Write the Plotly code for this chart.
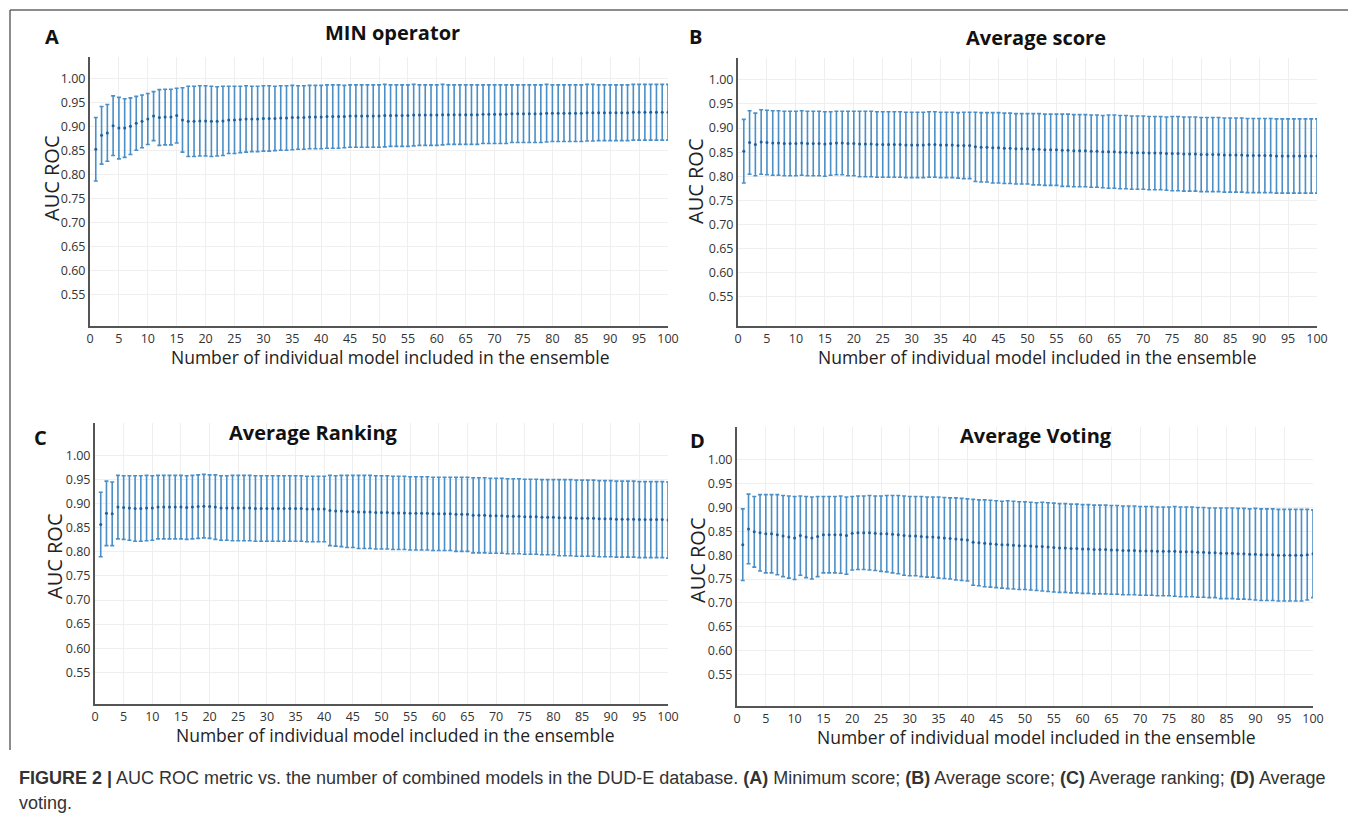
import plotly.graph_objects as go

W, H = 1348, 827

n_models = list(range(1, 101))

mean_A = [0.852, 0.881, 0.886, 0.901, 0.896, 0.896, 0.900, 0.906, 0.910, 0.915,
          0.921, 0.918, 0.919, 0.919, 0.922, 0.913, 0.910, 0.910, 0.911, 0.911,
          0.910, 0.910, 0.911, 0.913, 0.913, 0.914, 0.915, 0.915, 0.915, 0.916,
          0.916, 0.916, 0.917, 0.917, 0.918, 0.918, 0.918, 0.919, 0.919, 0.919,
          0.920, 0.920, 0.920, 0.920, 0.921, 0.921, 0.921, 0.921, 0.921, 0.921,
          0.922, 0.922, 0.922, 0.922, 0.922, 0.923, 0.923, 0.923, 0.923, 0.923,
          0.924, 0.924, 0.924, 0.924, 0.924, 0.924, 0.924, 0.925, 0.925, 0.925,
          0.925, 0.925, 0.926, 0.926, 0.926, 0.926, 0.926, 0.926, 0.927, 0.927,
          0.927, 0.927, 0.927, 0.927, 0.927, 0.928, 0.928, 0.928, 0.928, 0.928,
          0.928, 0.928, 0.928, 0.929, 0.929, 0.929, 0.929, 0.929, 0.929, 0.929]
sd_A = [0.066, 0.060, 0.059, 0.062, 0.064, 0.061, 0.059, 0.056, 0.055, 0.053,
        0.051, 0.058, 0.058, 0.058, 0.057, 0.067, 0.073, 0.073, 0.073, 0.073,
        0.073, 0.072, 0.072, 0.070, 0.070, 0.069, 0.069, 0.068, 0.068, 0.068,
        0.068, 0.067, 0.067, 0.067, 0.067, 0.066, 0.066, 0.066, 0.066, 0.066,
        0.066, 0.066, 0.066, 0.065, 0.065, 0.065, 0.065, 0.065, 0.065, 0.065,
        0.065, 0.064, 0.064, 0.064, 0.064, 0.064, 0.063, 0.063, 0.063, 0.063,
        0.063, 0.062, 0.062, 0.062, 0.062, 0.062, 0.062, 0.061, 0.061, 0.061,
        0.061, 0.061, 0.060, 0.060, 0.060, 0.060, 0.060, 0.060, 0.060, 0.059,
        0.059, 0.059, 0.059, 0.059, 0.059, 0.059, 0.059, 0.058, 0.058, 0.058,
        0.058, 0.058, 0.058, 0.058, 0.058, 0.058, 0.058, 0.058, 0.058, 0.058]

mean_B = [0.852, 0.870, 0.866, 0.871, 0.870, 0.869, 0.869, 0.868, 0.868, 0.868,
          0.869, 0.868, 0.868, 0.868, 0.867, 0.868, 0.869, 0.869, 0.868, 0.868,
          0.867, 0.867, 0.867, 0.866, 0.866, 0.866, 0.866, 0.866, 0.865, 0.865,
          0.865, 0.865, 0.866, 0.866, 0.865, 0.865, 0.865, 0.864, 0.864, 0.864,
          0.861, 0.860, 0.860, 0.859, 0.859, 0.858, 0.858, 0.857, 0.857, 0.857,
          0.856, 0.856, 0.855, 0.855, 0.855, 0.854, 0.854, 0.853, 0.853, 0.853,
          0.852, 0.852, 0.851, 0.851, 0.851, 0.850, 0.850, 0.849, 0.849, 0.849,
          0.848, 0.848, 0.848, 0.847, 0.847, 0.847, 0.846, 0.846, 0.846, 0.845,
          0.845, 0.845, 0.845, 0.844, 0.844, 0.844, 0.844, 0.843, 0.843, 0.843,
          0.843, 0.843, 0.842, 0.842, 0.842, 0.842, 0.842, 0.842, 0.842, 0.842]
sd_B = [0.066, 0.066, 0.065, 0.067, 0.067, 0.067, 0.067, 0.067, 0.067, 0.067,
        0.067, 0.067, 0.067, 0.067, 0.067, 0.066, 0.066, 0.066, 0.067, 0.067,
        0.068, 0.068, 0.068, 0.068, 0.068, 0.068, 0.068, 0.068, 0.068, 0.068,
        0.068, 0.068, 0.068, 0.068, 0.068, 0.068, 0.068, 0.068, 0.069, 0.069,
        0.072, 0.072, 0.072, 0.073, 0.073, 0.073, 0.073, 0.073, 0.073, 0.073,
        0.074, 0.074, 0.074, 0.074, 0.074, 0.075, 0.075, 0.075, 0.075, 0.075,
        0.075, 0.075, 0.075, 0.076, 0.076, 0.076, 0.076, 0.076, 0.076, 0.076,
        0.076, 0.076, 0.076, 0.076, 0.077, 0.077, 0.077, 0.077, 0.077, 0.077,
        0.077, 0.077, 0.077, 0.077, 0.077, 0.077, 0.077, 0.077, 0.077, 0.077,
        0.077, 0.077, 0.077, 0.077, 0.077, 0.077, 0.077, 0.077, 0.077, 0.077]

mean_C = [0.857, 0.880, 0.879, 0.893, 0.892, 0.891, 0.890, 0.890, 0.891, 0.891,
          0.893, 0.893, 0.893, 0.893, 0.893, 0.892, 0.893, 0.894, 0.895, 0.894,
          0.893, 0.891, 0.891, 0.891, 0.891, 0.891, 0.891, 0.890, 0.890, 0.890,
          0.890, 0.890, 0.890, 0.890, 0.890, 0.890, 0.889, 0.889, 0.889, 0.889,
          0.886, 0.885, 0.885, 0.884, 0.884, 0.883, 0.883, 0.883, 0.882, 0.882,
          0.882, 0.881, 0.881, 0.881, 0.880, 0.880, 0.880, 0.880, 0.879, 0.879,
          0.879, 0.879, 0.878, 0.878, 0.878, 0.876, 0.876, 0.876, 0.875, 0.875,
          0.875, 0.874, 0.874, 0.874, 0.873, 0.873, 0.873, 0.872, 0.872, 0.872,
          0.871, 0.871, 0.871, 0.870, 0.870, 0.870, 0.870, 0.869, 0.869, 0.869,
          0.868, 0.868, 0.868, 0.868, 0.867, 0.867, 0.867, 0.867, 0.867, 0.866]
sd_C = [0.067, 0.067, 0.066, 0.066, 0.066, 0.067, 0.068, 0.068, 0.068, 0.067,
        0.066, 0.066, 0.066, 0.066, 0.066, 0.066, 0.066, 0.066, 0.066, 0.066,
        0.067, 0.067, 0.067, 0.068, 0.068, 0.068, 0.068, 0.068, 0.068, 0.068,
        0.068, 0.068, 0.068, 0.068, 0.068, 0.068, 0.068, 0.068, 0.068, 0.068,
        0.073, 0.073, 0.074, 0.075, 0.075, 0.076, 0.076, 0.076, 0.076, 0.076,
        0.076, 0.076, 0.076, 0.076, 0.076, 0.076, 0.076, 0.076, 0.076, 0.076,
        0.076, 0.076, 0.077, 0.077, 0.077, 0.078, 0.078, 0.078, 0.078, 0.078,
        0.078, 0.078, 0.078, 0.078, 0.078, 0.078, 0.078, 0.078, 0.078, 0.078,
        0.079, 0.079, 0.079, 0.079, 0.079, 0.079, 0.079, 0.079, 0.079, 0.079,
        0.079, 0.079, 0.079, 0.079, 0.079, 0.079, 0.079, 0.079, 0.079, 0.079]

mean_D = [0.822, 0.855, 0.849, 0.847, 0.845, 0.845, 0.843, 0.840, 0.838, 0.836,
          0.841, 0.838, 0.836, 0.839, 0.843, 0.843, 0.843, 0.843, 0.841, 0.846,
          0.847, 0.847, 0.847, 0.846, 0.845, 0.845, 0.844, 0.843, 0.841, 0.840,
          0.840, 0.839, 0.838, 0.838, 0.837, 0.836, 0.835, 0.834, 0.833, 0.832,
          0.827, 0.826, 0.825, 0.824, 0.823, 0.822, 0.822, 0.821, 0.820, 0.820,
          0.819, 0.818, 0.818, 0.817, 0.816, 0.815, 0.815, 0.814, 0.814, 0.813,
          0.813, 0.812, 0.812, 0.812, 0.811, 0.811, 0.810, 0.810, 0.810, 0.809,
          0.809, 0.809, 0.808, 0.808, 0.808, 0.808, 0.807, 0.807, 0.807, 0.806,
          0.806, 0.805, 0.805, 0.804, 0.804, 0.804, 0.803, 0.803, 0.802, 0.802,
          0.801, 0.801, 0.801, 0.800, 0.800, 0.800, 0.800, 0.800, 0.801, 0.803]
sd_D = [0.075, 0.073, 0.074, 0.080, 0.082, 0.082, 0.084, 0.085, 0.086, 0.087,
        0.083, 0.085, 0.086, 0.084, 0.080, 0.080, 0.080, 0.081, 0.081, 0.077,
        0.077, 0.077, 0.078, 0.078, 0.079, 0.080, 0.081, 0.082, 0.083, 0.083,
        0.083, 0.084, 0.084, 0.084, 0.085, 0.085, 0.085, 0.086, 0.086, 0.086,
        0.090, 0.090, 0.091, 0.091, 0.091, 0.091, 0.092, 0.092, 0.092, 0.092,
        0.092, 0.092, 0.093, 0.093, 0.093, 0.093, 0.093, 0.093, 0.093, 0.093,
        0.093, 0.093, 0.093, 0.093, 0.093, 0.093, 0.093, 0.093, 0.093, 0.093,
        0.093, 0.093, 0.093, 0.093, 0.093, 0.094, 0.094, 0.094, 0.094, 0.094,
        0.094, 0.094, 0.094, 0.095, 0.095, 0.095, 0.095, 0.095, 0.095, 0.096,
        0.096, 0.096, 0.096, 0.096, 0.096, 0.096, 0.096, 0.096, 0.095, 0.092]

panel_letters = ["A", "B", "C", "D"]
panel_titles = ["MIN operator", "Average score", "Average Ranking", "Average Voting"]
y_ticks = [0.55, 0.60, 0.65, 0.70, 0.75, 0.80, 0.85, 0.90, 0.95, 1.00]
y_tick_text = ["0.55", "0.60", "0.65", "0.70", "0.75", "0.80", "0.85", "0.90", "0.95", "1.00"]
x_ticks = list(range(0, 101, 5))
x_title = "Number of individual model included in the ensemble"
y_title = "AUC ROC"

means = [mean_A, mean_B, mean_C, mean_D]
sds = [sd_A, sd_B, sd_C, sd_D]


def px(x):
    return x / W


def py(y):
    return 1 - y / H


# panel geometry in pixels: (x0, x1, ytop, ybottom, yrange)
geo = [
    (90, 668, 57, 326, [0.484, 1.044]),
    (738, 1317, 58, 326, [0.489, 1.0455]),
    (95, 668, 423, 704, [0.484, 1.0677]),
    (737, 1313, 427, 706, [0.484, 1.0686]),
]
letter_pos = [(52, 36), (696, 36), (40, 437), (697, 440)]
title_pos = [(392, 33), (1036, 37), (313, 432), (1036, 435)]
ytitle_pos = [(51, 178), (696, 181), (54, 556), (697, 560)]
xtitle_pos = [(390, 357), (1037, 357), (395, 735), (1036, 737)]

fig = go.Figure()
annotations = []
FONT = "Open Sans"


def ann(x, y, text, font, **kw):
    d = dict(x=px(x), y=py(y), xref="paper", yref="paper", text=text,
             showarrow=False, xanchor="center", yanchor="middle", font=font)
    d.update(kw)
    return d


for i in range(4):
    ax = "" if i == 0 else str(i + 1)
    fig.add_trace(go.Scatter(
        x=n_models, y=means[i], mode="markers",
        marker=dict(size=3, color="#1f5f9e"),
        error_y=dict(type="data", array=sds[i], symmetric=True,
                     color="#4b8fc6", thickness=1.6, width=2),
        xaxis="x" + ax, yaxis="y" + ax, showlegend=False, hoverinfo="skip"))
    x0, x1, yt, yb, yr = geo[i]
    fig.update_layout(**{
        "xaxis" + ax: dict(domain=[px(x0), px(x1)], range=[0, 100], tickvals=x_ticks,
                           showgrid=True, gridcolor="#efefef", gridwidth=1,
                           showline=True, linecolor="#555", linewidth=2,
                           zeroline=False, ticks="", anchor="y" + ax, automargin=False,
                           tickfont=dict(family=FONT, size=12.5, color="#333")),
        "yaxis" + ax: dict(domain=[py(yb), py(yt)], range=yr, tickvals=y_ticks,
                           ticktext=y_tick_text,
                           showgrid=True, gridcolor="#efefef", gridwidth=1,
                           showline=True, linecolor="#555", linewidth=2,
                           zeroline=False, ticks="", anchor="x" + ax, automargin=False,
                           tickfont=dict(family=FONT, size=12.5, color="#333")),
    })
    lx, ly = letter_pos[i]
    annotations.append(ann(lx, ly, "<b>%s</b>" % panel_letters[i],
                           dict(family=FONT, size=20, color="#111")))
    tx, ty = title_pos[i]
    annotations.append(ann(tx, ty, "<b>%s</b>" % panel_titles[i],
                           dict(family=FONT, size=20, color="#111")))
    ax_, ay_ = ytitle_pos[i]
    annotations.append(ann(ax_, ay_, y_title, dict(family=FONT, size=20, color="#222"),
                           textangle=-90))
    bx, by = xtitle_pos[i]
    annotations.append(ann(bx, by, x_title, dict(family=FONT, size=17.5, color="#222")))

cap1 = ("<b>FIGURE 2 |</b> AUC ROC metric vs. the number of combined models in the DUD-E database. "
        "<b>(A)</b> Minimum score; <b>(B)</b> Average score; <b>(C)</b> Average ranking; <b>(D)</b> Average")
cap2 = "voting."
cap_font = dict(family="Liberation Sans, Arial, sans-serif", size=18, color="#333")
annotations.append(ann(17, 778, cap1, cap_font, xanchor="left"))
annotations.append(ann(17, 803, cap2, cap_font, xanchor="left"))

shapes = [
    dict(type="line", xref="paper", yref="paper", x0=px(10), x1=1, y0=py(10), y1=py(10),
         line=dict(color="#666", width=1.5)),
    dict(type="line", xref="paper", yref="paper", x0=px(10), x1=px(10), y0=py(10), y1=py(750),
         line=dict(color="#666", width=1.5)),
]

fig.update_layout(width=W, height=H, margin=dict(l=0, r=0, t=0, b=0, autoexpand=False),
                  paper_bgcolor="white", plot_bgcolor="white",
                  annotations=annotations, shapes=shapes)
fig.write_html("out.html", config={"displayModeBar": False},
               post_script="document.body.style.margin='0';document.body.style.overflow='hidden';")
